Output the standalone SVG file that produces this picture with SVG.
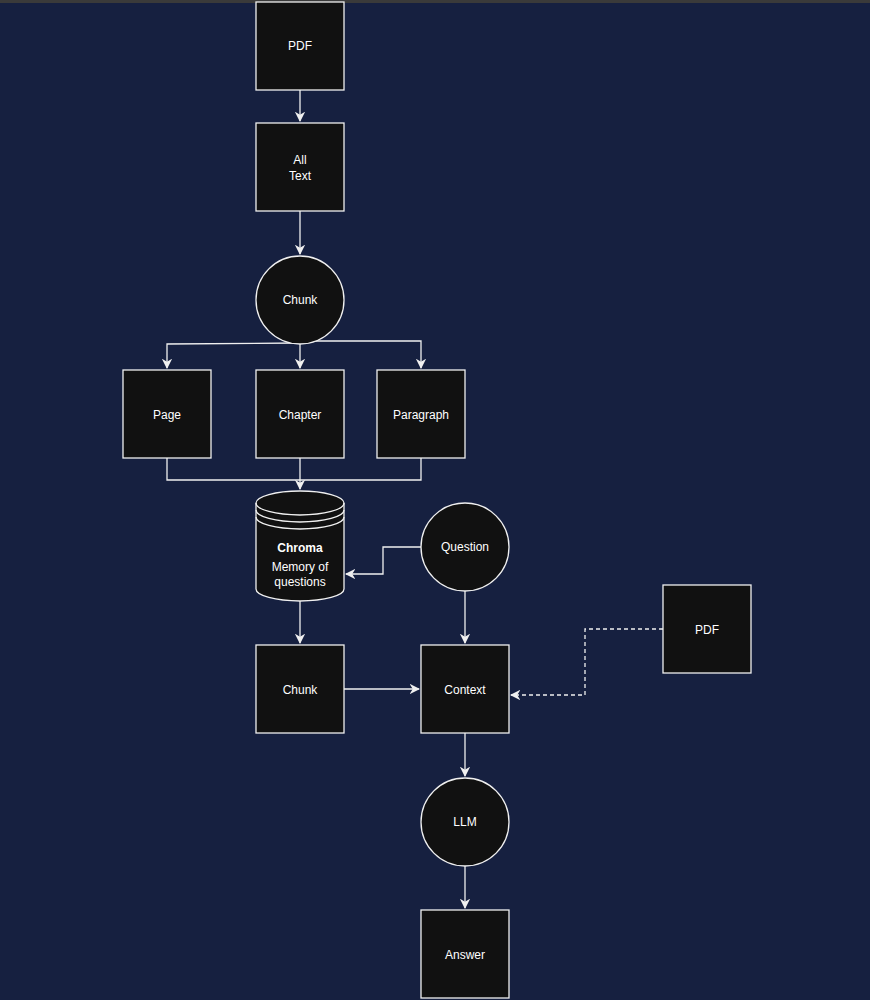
<svg xmlns="http://www.w3.org/2000/svg" width="870" height="1000" viewBox="0 0 870 1000">
<style>
.n{fill:#111111;stroke:#f0f0f0;stroke-width:1.3}
.t{font-family:"Liberation Sans",Arial,sans-serif;font-size:12px;fill:#ffffff;text-anchor:middle}
.c{fill:none;stroke:#f0f0f0;stroke-width:1.3}
</style>
<defs><marker id="a" viewBox="0 0 10 10" refX="9" refY="5" markerWidth="8" markerHeight="8" orient="auto"><path d="M0,0 L10,5 L0,10 L3,5 Z" fill="#f0f0f0"/></marker></defs>
<rect width="870" height="1000" fill="#162040"/>
<rect width="870" height="3" fill="#3a3a3a"/>
<g id="connectors">
<path class="c" d="M300,90 V121" marker-end="url(#a)"/>
<path class="c" d="M300,211 V254" marker-end="url(#a)"/>
<path class="c" d="M300,344 V368" marker-end="url(#a)"/>
<path class="c" d="M300,343 L167,344 V368" marker-end="url(#a)"/>
<path class="c" d="M300,341 L421,341 V368" marker-end="url(#a)"/>
<path class="c" d="M167,458 V480 H421 V458"/>
<path class="c" d="M300,458 V489" marker-end="url(#a)"/>
<path class="c" d="M421,547 H383 V574 H346" marker-end="url(#a)"/>
<path class="c" d="M300,601 V643" marker-end="url(#a)"/>
<path class="c" d="M465,591 V643" marker-end="url(#a)"/>
<path class="c" d="M344,689 H419" marker-end="url(#a)"/>
<path class="c" d="M663,629 H585 V695 H511" stroke-dasharray="4,3" marker-end="url(#a)"/>
<path class="c" d="M465,733 V776" marker-end="url(#a)"/>
<path class="c" d="M465,866 V908" marker-end="url(#a)"/>
</g>
<g id="pdf1"><rect class="n" x="256" y="2" width="88" height="88"/><text class="t" x="300" y="50">PDF</text></g>
<g id="alltext"><rect class="n" x="256" y="123" width="88" height="88"/><text class="t" x="300" y="164">All</text><text class="t" x="300" y="180">Text</text></g>
<g id="chunk1"><circle class="n" cx="300" cy="300" r="44"/><text class="t" x="300" y="304">Chunk</text></g>
<g id="page"><rect class="n" x="123" y="370" width="88" height="88"/><text class="t" x="167" y="419">Page</text></g>
<g id="chapter"><rect class="n" x="256" y="370" width="88" height="88"/><text class="t" x="300" y="419">Chapter</text></g>
<g id="paragraph"><rect class="n" x="377" y="370" width="88" height="88"/><text class="t" x="421" y="419">Paragraph</text></g>
<g id="chroma">
<path class="n" d="M256,503 A44,12 0 0 1 344,503 V589 A44,12 0 0 1 256,589 Z"/>
<path class="c" d="M256,503 A44,12 0 0 0 344,503 M256,510 A44,12 0 0 0 344,510 M256,517 A44,12 0 0 0 344,517"/>
<text class="t" x="300" y="552" font-weight="bold">Chroma</text>
<text class="t" x="300" y="571">Memory of</text><text class="t" x="300" y="586">questions</text>
</g>
<g id="question"><circle class="n" cx="465" cy="547" r="44"/><text class="t" x="465" y="551">Question</text></g>
<g id="pdf2"><rect class="n" x="663" y="585" width="88" height="88"/><text class="t" x="707" y="634">PDF</text></g>
<g id="chunk2"><rect class="n" x="256" y="645" width="88" height="88"/><text class="t" x="300" y="694">Chunk</text></g>
<g id="context"><rect class="n" x="421" y="645" width="88" height="88"/><text class="t" x="465" y="694">Context</text></g>
<g id="llm"><circle class="n" cx="465" cy="822" r="44"/><text class="t" x="465" y="826">LLM</text></g>
<g id="answer"><rect class="n" x="421" y="910" width="88" height="88"/><text class="t" x="465" y="959">Answer</text></g>
</svg>
